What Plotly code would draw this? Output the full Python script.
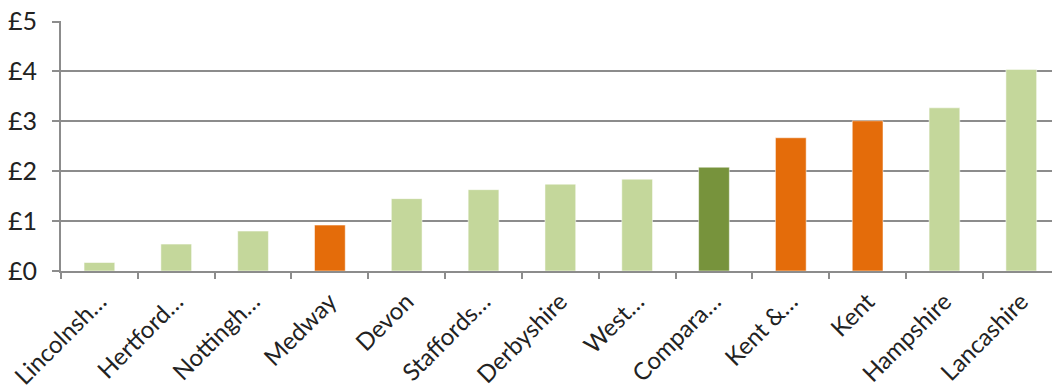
import plotly.graph_objects as go

categories = ["Lincolnsh…", "Hertford…", "Nottingh…", "Medway", "Devon", "Staffords…",
              "Derbyshire", "West…", "Compara…", "Kent &…", "Kent", "Hampshire", "Lancashire"]
values = [0.17, 0.54, 0.80, 0.92, 1.45, 1.63, 1.74, 1.84, 2.08, 2.67, 3.01, 3.27, 4.04]
groups = ["other", "other", "other", "kent", "other", "other",
          "other", "other", "comparator", "kent", "kent", "other", "other"]
group_colors = {"other": "#C4D79B", "kent": "#E46C0A", "comparator": "#77933C"}
y_ticks = [0, 1, 2, 3, 4, 5]
y_tick_labels = ["£0", "£1", "£2", "£3", "£4", "£5"]

fig = go.Figure(go.Bar(
    x=categories,
    y=values,
    marker=dict(color=[group_colors[g] for g in groups],
                line=dict(color="rgba(255,255,255,0.5)", width=1)),
    width=0.4,
))

grid = "#8C8C8C"
fig.update_layout(
    width=1052, height=390,
    margin=dict(l=61, r=0, t=21, b=119),
    paper_bgcolor="white", plot_bgcolor="white",
    font=dict(family="Lato", size=25, color="#222222"),
    showlegend=False,
)
fig.update_xaxes(
    range=[-0.5, 12.4], tickangle=-45, ticks="outside", tickson="boundaries",
    ticklen=6, tickwidth=2, tickcolor=grid, showline=True, linecolor=grid, linewidth=2,
    showgrid=False, tickfont=dict(size=24), automargin=False, ticklabeloverflow="allow",
    ticklabelstandoff=5,
)
fig.update_yaxes(
    range=[0, 5.01], tickvals=y_ticks, ticktext=y_tick_labels, ticks="outside",
    ticklen=7, tickwidth=2, tickcolor=grid, showline=True, linecolor=grid, linewidth=2,
    showgrid=True, gridcolor=grid, gridwidth=2, zeroline=False,
    tickfont=dict(size=25), ticklabelstandoff=10, automargin=False,
    ticklabeloverflow="allow",
)
fig.write_html("out.html", config={"displayModeBar": False},
               post_script="document.body.style.margin='0';document.body.style.overflow='hidden';")
